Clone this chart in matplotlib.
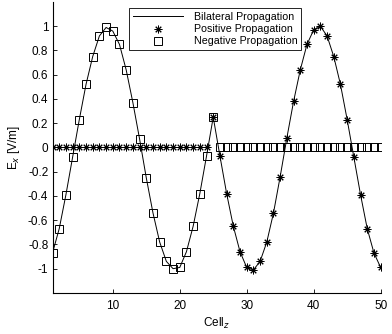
import matplotlib
matplotlib.use('Agg')
import matplotlib.pyplot as plt
import numpy as np

plt.rcParams['font.family'] = ['Liberation Sans', 'DejaVu Sans']

# cell index along z
cells = np.arange(1, 51)

# field, cells 1..50
bilateral = [-0.87, -0.67, -0.39, -0.08, 0.23, 0.52, 0.75, 0.92, 0.99, 0.96,
             0.85, 0.64, 0.37, 0.07, -0.25, -0.54, -0.78, -0.94, -1.0, -0.99,
             -0.86, -0.65, -0.38, -0.07, 0.25, -0.07, -0.38, -0.65, -0.86, -0.99,
             -1.01, -0.94, -0.78, -0.54, -0.24, 0.08, 0.38, 0.64, 0.85, 0.97,
             1.0, 0.92, 0.75, 0.52, 0.23, -0.08, -0.39, -0.67, -0.87, -0.99]
# positive propagation: zero up to cell 24, then the wave
positive = [0.0] * 24 + bilateral[24:]
# negative propagation: the wave up to cell 25, then zero
negative = bilateral[:25] + [0.0] * 25

x_ticks = [10, 20, 30, 40, 50]
y_ticks = [-1, -0.8, -0.6, -0.4, -0.2, 0, 0.2, 0.4, 0.6, 0.8, 1]
y_tick_labels = ['-1', '-0.8', '-0.6', '-0.4', '-0.2', '0', '0.2', '0.4', '0.6', '0.8', '1']

fig = plt.figure(figsize=(3.92, 3.34), dpi=100)
ax = fig.add_axes([0.134, 0.123, 0.837, 0.871])

ax.plot(cells, bilateral, color='black', linewidth=0.7, label='Bilateral Propagation')
ax.plot(cells, positive, linestyle='none', marker=(8, 2, 0), markersize=5.5,
        markeredgecolor='black', markeredgewidth=0.7, label='Positive Propagation')
ax.plot(cells, negative, linestyle='none', marker='s', markersize=5.5,
        markerfacecolor='none', markeredgecolor='black', markeredgewidth=0.7,
        label='Negative Propagation')

ax.set_xlim(1, 50)
ax.set_ylim(-1.2, 1.2)
ax.set_xticks(x_ticks)
ax.set_yticks(y_ticks)
ax.set_yticklabels(y_tick_labels)
ax.tick_params(direction='in', length=3, width=0.6, labelsize=8.5, pad=3)
ax.tick_params(axis='x', pad=5)
ax.spines['top'].set_visible(False)
ax.spines['right'].set_visible(False)
for side in ['left', 'bottom']:
    ax.spines[side].set_linewidth(0.8)

ax.set_xlabel('Cell$_z$', fontsize=8.5, labelpad=3)
ax.set_ylabel('E$_x$ [V/m]', fontsize=8.5, labelpad=4)

leg = ax.legend(loc='upper left', bbox_to_anchor=(0.233, 0.978), fontsize=7.7,
                frameon=True, fancybox=False, edgecolor='black', framealpha=1,
                handlelength=4.7, borderpad=0.35, labelspacing=0.2,
                handletextpad=1.0, borderaxespad=0)
leg.get_frame().set_linewidth(0.6)

fig.savefig('out.png', dpi=100)
